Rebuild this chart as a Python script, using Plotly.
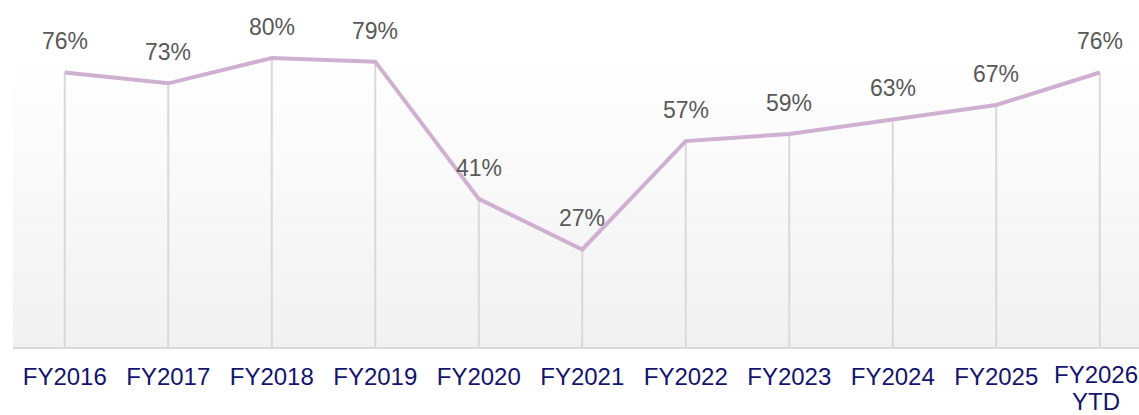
import plotly.graph_objects as go

categories = ["FY2016", "FY2017", "FY2018", "FY2019", "FY2020", "FY2021",
              "FY2022", "FY2023", "FY2024", "FY2025", "FY2026<br>YTD"]
values = [76, 73, 80, 79, 41, 27, 57, 59, 63, 67, 76]
labels = ["76%", "73%", "80%", "79%", "41%", "27%", "57%", "59%", "63%", "67%", "76%"]

W, H = 1139, 415
band = 103.5
left_px = 13
n = len(categories)
xmax = (W - left_px) / band - 0.5
tickfont = dict(family="Liberation Sans, Arial", size=24, color="#14146e")

fig = go.Figure()

# gradient background (white at top -> light grey at bottom)
steps = 40
ytop, ybot = 80, 0
for i in range(steps):
    y0 = ytop - (ytop - ybot) * i / steps
    y1 = ytop - (ytop - ybot) * (i + 1) / steps
    t = (i + 0.5) / steps
    c = round(255 - (255 - 241) * t)
    fig.add_shape(type="rect", xref="paper", yref="y", x0=0, x1=1, y0=y1, y1=y0,
                  fillcolor=f"rgb({c},{c},{c})", line=dict(width=0), layer="below")

# drop lines
fig.add_trace(go.Scatter(
    x=categories, y=values, mode="markers", marker=dict(size=0.1, opacity=0),
    error_y=dict(type="data", symmetric=False, array=[0] * n, arrayminus=values,
                 color="#d9d9d9", thickness=2, width=0),
    hoverinfo="skip", showlegend=False))

fig.add_trace(go.Scatter(
    x=categories, y=values, mode="lines",
    line=dict(color="#d0b0d0", width=4), showlegend=False))

for c, v, lab in zip(categories, values, labels):
    fig.add_annotation(x=c, y=v, text=lab, showarrow=False, yshift=31,
                       font=dict(family="Liberation Sans, Arial", size=23, color="#595959"))

# last tick label drawn as annotations (tight line spacing, kept inside the picture)
ticktext = categories[:-1] + [""]
for k, part in enumerate(categories[-1].split("<br>")):
    fig.add_annotation(x=categories[-1], xref="x", y=0, yref="paper", xshift=-4,
                       yanchor="middle", yshift=-27 - 27 * k, text=part, showarrow=False,
                       font=tickfont, borderpad=0)

fig.update_layout(
    width=W, height=H,
    margin=dict(l=left_px, r=0, t=4, b=68),
    plot_bgcolor="rgba(0,0,0,0)", paper_bgcolor="white",
    xaxis=dict(range=[-0.5, xmax], showgrid=False, zeroline=False,
               showline=True, linecolor="#d9d9d9", linewidth=2,
               tickmode="array", tickvals=categories, ticktext=ticktext,
               ticks="", ticklabelstandoff=7, tickfont=tickfont,
               fixedrange=True),
    yaxis=dict(range=[0, 343 / 3.612], visible=False, fixedrange=True),
)

fig.write_html("out.html", config={"displayModeBar": False},
               post_script="document.body.style.margin='0';document.body.style.overflow='hidden';")
